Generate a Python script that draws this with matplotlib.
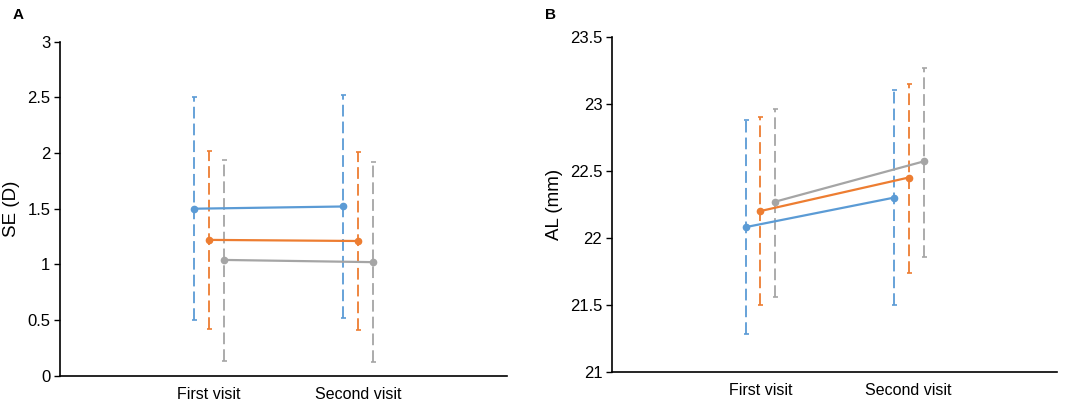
import numpy as np
import matplotlib
matplotlib.use('Agg')
import matplotlib.pyplot as plt

plt.rcParams['font.family'] = ['Liberation Sans', 'DejaVu Sans']

visits = ['First visit', 'Second visit']
colors = ['#5B9BD5', '#ED7D31', '#A5A5A5']
offsets = [-0.1, 0.0, 0.1]

# Panel A: SE (D), mean and error bar limits per group
se_mean = [[1.50, 1.52], [1.22, 1.21], [1.04, 1.02]]
se_low = [[0.50, 0.52], [0.42, 0.41], [0.13, 0.12]]
se_high = [[2.50, 2.52], [2.02, 2.01], [1.94, 1.92]]

# Panel B: AL (mm)
al_mean = [[22.08, 22.30], [22.20, 22.45], [22.27, 22.57]]
al_low = [[21.28, 21.50], [21.50, 21.74], [21.56, 21.86]]
al_high = [[22.88, 23.10], [22.90, 23.15], [22.96, 23.27]]

fig = plt.figure(figsize=(10.84, 4.03), dpi=100)
ax_a = fig.add_axes([0.0554, 0.0677, 0.4124, 0.8288])
ax_b = fig.add_axes([0.5646, 0.0769, 0.4105, 0.832])


def draw_panel(ax, means, lows, highs, ylim, yticks, ylabel, letter, lx, ly):
    x = np.arange(1, len(visits) + 1)
    for g in range(len(means)):
        m = np.array(means[g])
        err = [m - np.array(lows[g]), np.array(highs[g]) - m]
        xs = x + offsets[g]
        _, caps, bars = ax.errorbar(xs, m, yerr=err, color=colors[g], lw=1.6,
                                    marker='o', ms=4.5, capsize=1.8,
                                    elinewidth=1.3, capthick=1.2, zorder=3)
        bars[0].set_linestyle((0, (6.5, 2.8)))
    ax.set_xlim(0, 3)
    ax.set_ylim(*ylim)
    ax.set_yticks(yticks)
    ax.set_yticklabels([('%g' % t) for t in yticks])
    ax.set_xticks(x)
    ax.set_xticklabels(visits)
    ax.tick_params(axis='x', length=0, pad=8, labelsize=11.5)
    ax.tick_params(axis='y', length=4, width=1, pad=3, labelsize=12)
    for s in ['top', 'right']:
        ax.spines[s].set_visible(False)
    ax.spines['left'].set_linewidth(1.2)
    ax.spines['bottom'].set_linewidth(1.2)
    ax.set_ylabel(ylabel, fontsize=13.5, labelpad=5)
    ax.text(lx, ly, letter, transform=ax.transAxes, fontsize=11,
            fontweight='bold', ha='left', va='center')


draw_panel(ax_a, se_mean, se_low, se_high, (0, 3),
           [0, 0.5, 1, 1.5, 2, 2.5, 3], 'SE (D)', 'A', -0.107, 1.08)
draw_panel(ax_b, al_mean, al_low, al_high, (21, 23.5),
           [21, 21.5, 22, 22.5, 23, 23.5], 'AL (mm)', 'B', -0.15, 1.065)

fig.savefig('out.png', dpi=100)
